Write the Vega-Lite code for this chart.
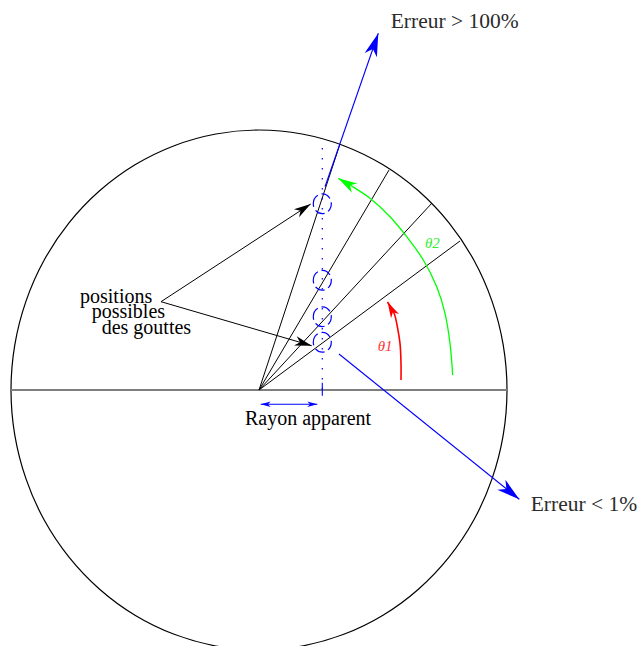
{
  "$schema": "https://vega.github.io/schema/vega-lite/v6.json",
  "width": 641,
  "height": 646,
  "padding": 0,
  "autosize": {"type": "none"},
  "background": "white",
  "config": {"view": {"stroke": null}},
  "datasets": {
    "circle": [
      {"i": 0, "x": 248, "y": 0}, {"i": 1, "x": 244.2, "y": 45.1}, {"i": 2, "x": 233.0, "y": 88.9},
      {"i": 3, "x": 214.8, "y": 130.0}, {"i": 4, "x": 190.0, "y": 167.1}, {"i": 5, "x": 159.4, "y": 199.2},
      {"i": 6, "x": 124.0, "y": 225.2}, {"i": 7, "x": 84.8, "y": 244.3}, {"i": 8, "x": 43.1, "y": 256.0},
      {"i": 9, "x": 0, "y": 260}, {"i": 10, "x": -43.1, "y": 256.0}, {"i": 11, "x": -84.8, "y": 244.3},
      {"i": 12, "x": -124.0, "y": 225.2}, {"i": 13, "x": -159.4, "y": 199.2}, {"i": 14, "x": -190.0, "y": 167.1},
      {"i": 15, "x": -214.8, "y": 130.0}, {"i": 16, "x": -233.0, "y": 88.9}, {"i": 17, "x": -244.2, "y": 45.1},
      {"i": 18, "x": -248, "y": 0}, {"i": 19, "x": -244.2, "y": -45.1}, {"i": 20, "x": -233.0, "y": -88.9},
      {"i": 21, "x": -214.8, "y": -130.0}, {"i": 22, "x": -190.0, "y": -167.1}, {"i": 23, "x": -159.4, "y": -199.2},
      {"i": 24, "x": -124.0, "y": -225.2}, {"i": 25, "x": -84.8, "y": -244.3}, {"i": 26, "x": -43.1, "y": -256.0},
      {"i": 27, "x": 0, "y": -260}, {"i": 28, "x": 43.1, "y": -256.0}, {"i": 29, "x": 84.8, "y": -244.3},
      {"i": 30, "x": 124.0, "y": -225.2}, {"i": 31, "x": 159.4, "y": -199.2}, {"i": 32, "x": 190.0, "y": -167.1},
      {"i": 33, "x": 214.8, "y": -130.0}, {"i": 34, "x": 233.0, "y": -88.9}, {"i": 35, "x": 244.2, "y": -45.1}
    ],
    "black": [
      {"seg": "fan1", "i": 0, "x": 0, "y": 0}, {"seg": "fan1", "i": 1, "x": 81, "y": 246},
      {"seg": "fan2", "i": 0, "x": 0, "y": 0}, {"seg": "fan2", "i": 1, "x": 130, "y": 220},
      {"seg": "fan3", "i": 0, "x": 0, "y": 0}, {"seg": "fan3", "i": 1, "x": 173, "y": 187},
      {"seg": "fan4", "i": 0, "x": 0, "y": 0}, {"seg": "fan4", "i": 1, "x": 201, "y": 149},
      {"seg": "p1", "i": 0, "x": -98, "y": 88.3}, {"seg": "p1", "i": 1, "x": 51.7, "y": 186},
      {"seg": "p2", "i": 0, "x": -98, "y": 88.3}, {"seg": "p2", "i": 1, "x": 52.7, "y": 44.3}
    ],
    "diam": [
      {"i": 0, "x": -248, "y": 0}, {"i": 1, "x": 248, "y": 0}
    ],
    "blue": [
      {"seg": "up", "i": 0, "x": 66, "y": 203.3}, {"seg": "up", "i": 1, "x": 119.3, "y": 356.7},
      {"seg": "low", "i": 0, "x": 80, "y": 36}, {"seg": "low", "i": 1, "x": 260.3, "y": -109.3},
      {"seg": "tick", "i": 0, "x": 63.3, "y": 7.3}, {"seg": "tick", "i": 1, "x": 63.3, "y": -5.7},
      {"seg": "dbl", "i": 0, "x": 1.7, "y": -14.3}, {"seg": "dbl", "i": 1, "x": 58.3, "y": -14.3}
    ],
    "dotted": [
      {"i": 0, "x": 63.3, "y": 242}, {"i": 1, "x": 63.3, "y": 0}
    ],
    "red": [
      {"i": 0, "x": 142, "y": 10}, {"i": 1, "x": 142, "y": 26.7}, {"i": 2, "x": 141, "y": 46.7},
      {"i": 3, "x": 137.7, "y": 66.7}, {"i": 4, "x": 135, "y": 77}, {"i": 5, "x": 128.5, "y": 88}
    ],
    "green": [
      {"i": 0, "x": 193.7, "y": 15}, {"i": 1, "x": 191, "y": 46.7}, {"i": 2, "x": 186, "y": 76.7},
      {"i": 3, "x": 177.7, "y": 103.3}, {"i": 4, "x": 164.3, "y": 130}, {"i": 5, "x": 147.7, "y": 153.3},
      {"i": 6, "x": 131, "y": 173.3}, {"i": 7, "x": 111, "y": 191.7}, {"i": 8, "x": 91, "y": 205},
      {"i": 9, "x": 79.3, "y": 211.7}
    ],
    "headsBigBlue": [
      {"x": 119.3, "y": 356.7, "dir": 19.1}, {"x": 260.3, "y": -109.3, "dir": 128.9}
    ],
    "headsBlack": [
      {"x": 51.7, "y": 186, "dir": 56.9}, {"x": 52.7, "y": 44.3, "dir": 106.3}
    ],
    "headsRed": [{"x": 128.5, "y": 88, "dir": -28}],
    "headsGreen": [{"x": 79.3, "y": 211.7, "dir": -59}],
    "headsSmallBlue": [
      {"x": 1.7, "y": -14.3, "dir": -90}, {"x": 58.3, "y": -14.3, "dir": 90}
    ],
    "drops": [
      {"x": 63.3, "y": 186.2}, {"x": 63.3, "y": 109.7}, {"x": 63.3, "y": 73.3}, {"x": 63.3, "y": 47.7}
    ],
    "errText": [
      {"t": "Erreur > 100%", "x": 131.7, "y": 362.3},
      {"t": "Erreur < 1%", "x": 271.7, "y": -121}
    ],
    "labels": [
      {"t": "Rayon apparent", "x": -14, "y": -35},
      {"t": "positions", "x": -179, "y": 86.7},
      {"t": "possibles", "x": -167.3, "y": 71.7},
      {"t": "des gouttes", "x": -157.3, "y": 56}
    ],
    "thetas": [
      {"t": "θ1", "x": 118.7, "y": 39, "k": "t1"},
      {"t": "θ2", "x": 166, "y": 142, "k": "t2"}
    ]
  },
  "encoding": {
    "x": {"field": "x", "type": "quantitative", "axis": null, "scale": {"domain": [-259, 382], "nice": false, "zero": false}},
    "y": {"field": "y", "type": "quantitative", "axis": null, "scale": {"domain": [-256, 390], "nice": false, "zero": false}}
  },
  "layer": [
    {
      "data": {"name": "circle"},
      "mark": {"type": "line", "interpolate": "cardinal-closed", "color": "black", "strokeWidth": 1.2},
      "encoding": {"order": {"field": "i", "type": "quantitative"}}
    },
    {
      "data": {"name": "diam"},
      "mark": {"type": "line", "color": "#7f7f7f", "strokeWidth": 2},
      "encoding": {"order": {"field": "i", "type": "quantitative"}}
    },
    {
      "data": {"name": "black"},
      "mark": {"type": "line", "color": "black", "strokeWidth": 1},
      "encoding": {"detail": {"field": "seg", "type": "nominal"}, "order": {"field": "i", "type": "quantitative"}}
    },
    {
      "data": {"name": "blue"},
      "mark": {"type": "line", "color": "#0000ff", "strokeWidth": 1.1},
      "encoding": {"detail": {"field": "seg", "type": "nominal"}, "order": {"field": "i", "type": "quantitative"}}
    },
    {
      "data": {"name": "dotted"},
      "mark": {"type": "line", "color": "#0000ff", "strokeWidth": 1.2, "strokeDash": [1.5, 8.5]},
      "encoding": {"order": {"field": "i", "type": "quantitative"}}
    },
    {
      "data": {"name": "red"},
      "mark": {"type": "line", "interpolate": "cardinal", "color": "#ff0000", "strokeWidth": 1.6},
      "encoding": {"order": {"field": "i", "type": "quantitative"}}
    },
    {
      "data": {"name": "green"},
      "mark": {"type": "line", "interpolate": "cardinal", "color": "#00ff00", "strokeWidth": 1.3},
      "encoding": {"order": {"field": "i", "type": "quantitative"}}
    },
    {
      "data": {"name": "drops"},
      "mark": {"type": "point", "shape": "M-1,0A1,1.1,0,1,1,1,0A1,1.1,0,1,1,-1,0Z", "size": 324, "filled": false, "stroke": "#0000ff", "strokeWidth": 1.2, "strokeDash": [10, 4], "opacity": 1}
    },
    {
      "data": {"name": "headsBigBlue"},
      "mark": {"type": "point", "shape": "M0,0L-0.45,1.6L0,1.15L0.45,1.6Z", "size": 830, "filled": true, "color": "#0000ff", "opacity": 1},
      "encoding": {"angle": {"field": "dir", "type": "quantitative", "scale": null}}
    },
    {
      "data": {"name": "headsBlack"},
      "mark": {"type": "point", "shape": "M0,0L-0.45,1.6L0,1.15L0.45,1.6Z", "size": 450, "filled": true, "color": "black", "opacity": 1},
      "encoding": {"angle": {"field": "dir", "type": "quantitative", "scale": null}}
    },
    {
      "data": {"name": "headsRed"},
      "mark": {"type": "point", "shape": "M0,0L-0.45,1.6L0,1.15L0.45,1.6Z", "size": 400, "filled": true, "color": "#ff0000", "opacity": 1},
      "encoding": {"angle": {"field": "dir", "type": "quantitative", "scale": null}}
    },
    {
      "data": {"name": "headsGreen"},
      "mark": {"type": "point", "shape": "M0,0L-0.45,1.6L0,1.15L0.45,1.6Z", "size": 566, "filled": true, "color": "#00ff00", "opacity": 1},
      "encoding": {"angle": {"field": "dir", "type": "quantitative", "scale": null}}
    },
    {
      "data": {"name": "headsSmallBlue"},
      "mark": {"type": "point", "shape": "M0,0L-0.45,1.6L0,1.15L0.45,1.6Z", "size": 156, "filled": true, "color": "#0000ff", "opacity": 1},
      "encoding": {"angle": {"field": "dir", "type": "quantitative", "scale": null}}
    },
    {
      "data": {"name": "errText"},
      "mark": {"type": "text", "align": "left", "baseline": "alphabetic", "font": "Liberation Serif", "fontSize": 21.5, "color": "#2b2b2b"},
      "encoding": {"text": {"field": "t", "type": "nominal"}}
    },
    {
      "data": {"name": "labels"},
      "mark": {"type": "text", "align": "left", "baseline": "alphabetic", "font": "Liberation Serif", "fontSize": 20, "color": "black"},
      "encoding": {"text": {"field": "t", "type": "nominal"}}
    },
    {
      "data": {"name": "thetas"},
      "mark": {"type": "text", "align": "left", "baseline": "alphabetic", "font": "Liberation Serif", "fontSize": 15, "fontStyle": "italic"},
      "encoding": {
        "text": {"field": "t", "type": "nominal"},
        "color": {"field": "k", "type": "nominal", "scale": {"domain": ["t1", "t2"], "range": ["#ff3333", "#33ee33"]}, "legend": null}
      }
    }
  ]
}
